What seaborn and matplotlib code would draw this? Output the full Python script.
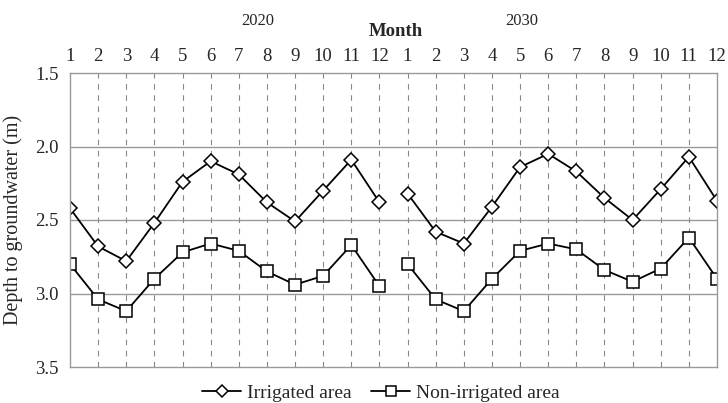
import numpy as np
import pandas as pd
import seaborn as sns
import matplotlib
matplotlib.use("Agg")
import matplotlib.pyplot as plt
from matplotlib.lines import Line2D

months = list(range(1, 13))
years = ["2020", "2030"]
irrigated_2020 = [2.42, 2.68, 2.78, 2.52, 2.24, 2.10, 2.19, 2.38, 2.51, 2.30, 2.09, 2.38]
irrigated_2030 = [2.32, 2.58, 2.66, 2.41, 2.14, 2.05, 2.17, 2.35, 2.50, 2.29, 2.07, 2.37]
nonirr_2020 = [2.80, 3.04, 3.12, 2.90, 2.72, 2.66, 2.71, 2.85, 2.94, 2.88, 2.67, 2.95]
nonirr_2030 = [2.80, 3.04, 3.12, 2.90, 2.71, 2.66, 2.70, 2.84, 2.92, 2.83, 2.62, 2.90]
series_names = ["Irrigated area", "Non-irrigated area"]

rows = []
for s, vals_by_year in zip(series_names, [[irrigated_2020, irrigated_2030], [nonirr_2020, nonirr_2030]]):
    for yi, (yr, vals) in enumerate(zip(years, vals_by_year)):
        for mi, (m, v) in enumerate(zip(months, vals)):
            rows.append(dict(series=s, year=yr, month=m, pos=yi * 12 + mi, depth=v))
df = pd.DataFrame(rows)

sns.set_theme(style="white")
plt.rcParams["font.family"] = ["Liberation Serif", "DejaVu Serif"]

fig = plt.figure(figsize=(7.28, 4.03), dpi=100)
ax = fig.add_axes([70 / 728, 36 / 403, 647 / 728, 294 / 403])

markers = {"Irrigated area": "D", "Non-irrigated area": "s"}
msize = {"Irrigated area": 7.5, "Non-irrigated area": 8.5}
for s in series_names:
    for yr in years:
        sub = df[(df.series == s) & (df.year == yr)]
        sns.lineplot(data=sub, x="pos", y="depth", ax=ax, color="black", lw=1.3,
                     marker=markers[s], markersize=msize[s], markerfacecolor="white",
                     markeredgecolor="black", markeredgewidth=1.1, legend=False)

ax.set_xlim(0, 23)
ax.set_ylim(3.5, 1.5)
ax.set_yticks([1.5, 2.0, 2.5, 3.0, 3.5])
ax.set_yticklabels(["1.5", "2.0", "2.5", "3.0", "3.5"], fontsize=13.5)
ax.set_xticks(range(24))
ax.set_xticklabels([str(m) for m in months] * 2, fontsize=13.5)
ax.xaxis.tick_top()
ax.tick_params(axis="x", length=0, pad=6)
ax.tick_params(axis="y", length=0, pad=8)
for v in [2.0, 2.5, 3.0]:
    ax.axhline(v, color="#999999", lw=1, zorder=0)
for p in range(1, 23):
    ax.axvline(p, color="#888888", lw=0.8, ls=(0, (5, 5)), zorder=0)
for sp in ax.spines.values():
    sp.set_color("#999999")
    sp.set_linewidth(1)
ax.set_xlabel("")
ax.set_ylabel("Depth to groundwater (m)", fontsize=14.5, labelpad=9)

fig.text(258 / 728, 1 - 21 / 403, "2020", ha="center", va="center", fontsize=12)
fig.text(522 / 728, 1 - 21 / 403, "2030", ha="center", va="center", fontsize=12)
fig.text(396 / 728, 1 - 32 / 403, "Month", ha="center", va="center", fontsize=13.5, fontweight="bold")

handles = [Line2D([], [], color="black", lw=1.3, marker=markers[s], markersize=msize[s] - 1,
                  markerfacecolor="white", markeredgecolor="black", markeredgewidth=1.1)
           for s in series_names]
fig.legend(handles, series_names, loc="center", bbox_to_anchor=(381 / 728, 1 - 393 / 403),
           ncol=2, frameon=False, fontsize=14, handlelength=2.0, columnspacing=1.0,
           handletextpad=0.3)

fig.savefig("out.png", dpi=100)
